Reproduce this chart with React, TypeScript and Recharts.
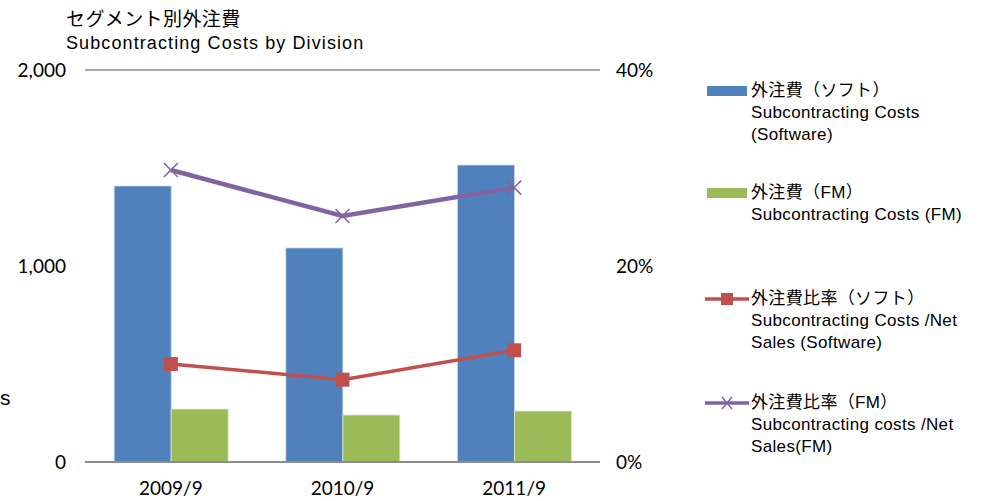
import React from "react"
import {
  ComposedChart,
  Bar,
  Line,
  XAxis,
  YAxis,
  CartesianGrid,
} from "recharts"

const periods = ["2009/9", "2010/9", "2011/9"]
const softCosts = [1408, 1092, 1515]
const fmCosts = [270, 240, 260]
const softRatio = [0.1, 0.084, 0.114]
const fmRatio = [0.298, 0.251, 0.28]
const leftTicks = [0, 1000, 2000]
const rightTicks = [0, 0.2, 0.4]

const legendItems = [
  { key: "soft", kind: "bar", color: "#4F81BD", lines: ["外注費（ソフト）", "Subcontracting Costs", "(Software)"] },
  { key: "fm", kind: "bar", color: "#9BBB59", lines: ["外注費（FM）", "Subcontracting Costs (FM)"] },
  { key: "softRatio", kind: "square", color: "#C0504D", lines: ["外注費比率（ソフト）", "Subcontracting Costs /Net", "Sales (Software)"] },
  { key: "fmRatio", kind: "cross", color: "#8064A2", lines: ["外注費比率（FM）", "Subcontracting costs /Net", "Sales(FM)"] },
]
const legendTops = [80, 182, 288, 392]

const data = periods.map((p, i) => ({
  period: p,
  soft: softCosts[i],
  fm: fmCosts[i],
  softRatio: softRatio[i],
  fmRatio: fmRatio[i],
}))

const FONT = '"Liberation Sans", Arial, "Noto Sans CJK JP", sans-serif'
const TICK_FONT = 'Lato, "Open Sans", sans-serif'

const SquareDot = (props: any) => {
  const { cx, cy } = props
  return <rect x={cx - 7} y={cy - 7} width={14} height={14} fill="#C0504D" />
}

const CrossDot = (props: any) => {
  const { cx, cy } = props
  const s = 7
  return (
    <g stroke="#8064A2" strokeWidth={1.5}>
      <line x1={cx - s} y1={cy - s} x2={cx + s} y2={cy + s} />
      <line x1={cx - s} y1={cy + s} x2={cx + s} y2={cy - s} />
    </g>
  )
}

const LegendIcon = ({ kind, color }: { kind: string; color: string }) => {
  if (kind === "bar") {
    return (
      <svg width={46} height={12} style={{ display: "block" }}>
        <rect x={2} y={1} width={40} height={10} fill={color} />
      </svg>
    )
  }
  return (
    <svg width={46} height={16} style={{ display: "block" }}>
      <line x1={0} y1={8} x2={44} y2={8} stroke={color} strokeWidth={3.5} />
      {kind === "square" ? (
        <rect x={16} y={2} width={12} height={12} fill={color} />
      ) : (
        <g stroke={color} strokeWidth={1.5}>
          <line x1={17} y1={2} x2={27} y2={14} />
          <line x1={17} y1={14} x2={27} y2={2} />
        </g>
      )}
    </svg>
  )
}

export default function App() {
  return (
    <div
      style={{
        position: "absolute",
        left: 0,
        top: 0,
        width: 981,
        height: 501,
        background: "#fff",
        fontFamily: FONT,
        overflow: "hidden",
      }}
    >
      <ComposedChart
        width={981}
        height={501}
        data={data}
        margin={{ top: 70, right: 321, bottom: 9, left: 0 }}
        barCategoryGap="17%"
        barGap={0}
      >
        <CartesianGrid vertical={false} stroke="#8c8c8c" strokeWidth={1.5} />
        <XAxis
          dataKey="period"
          height={30}
          axisLine={{ stroke: "#8c8c8c", strokeWidth: 2 }}
          tickLine={false}
          tickMargin={14}
          tick={{ fill: "#000", fontSize: 19, fontFamily: TICK_FONT }}
        />
        <YAxis
          yAxisId="left"
          width={85}
          domain={[0, 2000]}
          ticks={leftTicks}
          tickFormatter={(v: number) => v.toLocaleString("en-US")}
          axisLine={false}
          tickLine={false}
          tickSize={0}
          tickMargin={19}
          tick={{ fill: "#000", fontSize: 19, fontFamily: TICK_FONT }}
        />
        <YAxis
          yAxisId="right"
          orientation="right"
          width={60}
          domain={[0, 0.4]}
          ticks={rightTicks}
          tickFormatter={(v: number) => `${Math.round(v * 100)}%`}
          axisLine={false}
          tickLine={false}
          tickSize={0}
          tickMargin={16}
          tick={{ fill: "#000", fontSize: 19, fontFamily: TICK_FONT }}
        />
        <Bar
          yAxisId="left"
          dataKey="soft"
          fill="#4F81BD"
          stroke="#c9d7ea"
          strokeWidth={0.8}
          isAnimationActive={false}
        />
        <Bar
          yAxisId="left"
          dataKey="fm"
          fill="#9BBB59"
          stroke="#e0eacb"
          strokeWidth={0.8}
          isAnimationActive={false}
        />
        <Line
          yAxisId="right"
          dataKey="softRatio"
          stroke="#C0504D"
          strokeWidth={3.5}
          dot={<SquareDot />}
          activeDot={false}
          isAnimationActive={false}
        />
        <Line
          yAxisId="right"
          dataKey="fmRatio"
          stroke="#8064A2"
          strokeWidth={4.5}
          dot={<CrossDot />}
          activeDot={false}
          isAnimationActive={false}
        />
      </ComposedChart>
      <div style={{ position: "absolute", left: 66, top: 4, fontSize: 19, color: "#000", letterSpacing: 0.4 }}>
        セグメント別外注費
      </div>
      <div style={{ position: "absolute", left: 66, top: 33, fontSize: 18, color: "#000", letterSpacing: 1.1 }}>
        Subcontracting Costs by Division
      </div>
      <div style={{ position: "absolute", left: 0, top: 386, fontSize: 21, color: "#000" }}>s</div>
      {legendItems.map((item, i) => (
        <div
          key={item.key}
          style={{
            position: "absolute",
            left: 705,
            top: legendTops[i],
            display: "flex",
            alignItems: "flex-start",
            fontSize: 17,
            letterSpacing: 0.35,
            color: "#000",
          }}
        >
          <div style={{ width: 46, paddingTop: item.kind === "bar" ? 5 : 3 }}>
            <LegendIcon kind={item.kind} color={item.color} />
          </div>
          <div style={{ lineHeight: "22px" }}>
            {item.lines.map((l) => (
              <div key={l} style={{ whiteSpace: "nowrap" }}>{l}</div>
            ))}
          </div>
        </div>
      ))}
    </div>
  )
}
